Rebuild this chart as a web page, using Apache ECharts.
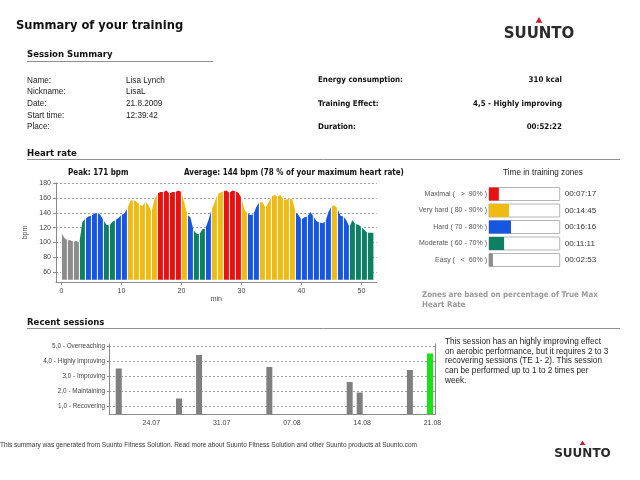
<!doctype html>
<html>
<head>
<meta charset="utf-8">
<title>Summary of your training</title>
<script src="https://cdn.jsdelivr.net/npm/echarts@6/dist/echarts.min.js"></script>
</head>
<body style="margin:0;padding:0;background:#fff">
<div id="main" style="width:640px;height:480px"></div>
<script>
// heart rate, one reading every half minute from 0 to 52 min
var hrValues = [
	113,106,103,103,101,102,100,128,132,135,136,139,140,137,130,124,123,128,130,133,137,139,
	146,156,157,155,151,149,155,150,141,157,166,168,168,170,166,168,168,170,168,153,137,134,
	117,112,111,118,119,130,144,153,165,167,169,170,167,170,169,167,160,144,139,137,138,148,
	154,154,147,153,162,164,162,164,158,158,159,158,141,137,131,134,135,141,135,129,127,126,
	128,141,148,150,146,136,135,130,121,130,125,124,121,117,113,113,113
];
// zone of every full minute
var minuteZones = [
	'E','E','E','M','H','H','H','M','M','H','H','V','V','V','V','V','X','X','X','X','V','H','M','M','H','V',
	'V','X','X','X','V','H','H','V','V','V','V','V','V','H','H','H','H','H','H','V','H','H','M','M','M','M'
];
var zoneKeys = ['X', 'V', 'H', 'M', 'E'];
var zoneColors = ['#e81010', '#eebb12', '#1656e0', '#0f7f63', '#8c8c8c'];
var zoneNames = ['Maximal (   >  90% )', 'Very hard ( 80 - 90% )', 'Hard ( 70 - 80% )', 'Moderate ( 60 - 70% )', 'Easy (   <  60% )'];
var zoneSeconds = [437, 885, 976, 671, 173];
var zoneTimes = ['00:07:17', '00:14:45', '00:16:16', '00:11:11', '00:02:53'];
var totalSeconds = 3142;

var hrTicks = [60, 80, 100, 120, 140, 160, 180];
var minTicks = [0, 10, 20, 30, 40, 50];

// days counted from 24.07
var sessionDays = [-3, 3, 5, 12, 20, 21, 26, 28];
var sessionEffect = [3.5, 1.5, 4.4, 3.6, 2.6, 1.9, 3.4, 4.5];
var dayTicks = [0, 7, 14, 21, 28];
var dayLabels = ['24.07', '31.07', '07.08', '14.08', '21.08'];
var effectTicks = [1, 2, 3, 4, 5];
var effectLabels = ['1,0 - Recovering', '2,0 - Maintaining', '3,0 - Improving', '4,0 - Highly improving', '5,0 - Overreaching'];

var FONT = '"Liberation Sans", sans-serif';
var BOLD = '"DejaVu Sans Condensed", "DejaVu Sans"';
var GREY = '#8a8a8a';

function text(x, y, str, size, opt) {
	opt = opt || {};
	return {
		type: 'text', x: x, y: y, silent: true,
		style: {
			text: str,
			font: (opt.bold ? 'bold ' : '') + size + 'px ' + (opt.family || (opt.bold ? BOLD : FONT)),
			fill: opt.color || '#222',
			textAlign: opt.align || 'left',
			textVerticalAlign: 'middle'
		}
	};
}
function rule(x1, x2, y) {
	return { type: 'line', silent: true, shape: { x1: x1, y1: y, x2: x2, y2: y }, style: { stroke: '#8f8f8f', lineWidth: 1 } };
}
function logo(cx, y, size) {
	return [
		text(cx, y, 'SUUNTO', size, { bold: true, align: 'center', color: '#2a2a2a', family: '"DejaVu Sans"' }),
		{ type: 'polygon', silent: true, shape: { points: [[cx, y - size * 1.13], [cx - size * 0.23, y - size * 0.75], [cx + size * 0.23, y - size * 0.75]] }, style: { fill: '#c8202c' } }
	];
}

var graphics = [
	text(16, 26, 'Summary of your training', 12.8, { bold: true, color: '#111' }),
	text(27, 55, 'Session Summary', 9.5, { bold: true, color: '#111' }),
	rule(27, 213, 61.5),
	text(27, 154, 'Heart rate', 9.5, { bold: true, color: '#111' }),
	rule(27, 620, 159.5),
	text(27, 323, 'Recent sessions', 9.5, { bold: true, color: '#111' }),
	rule(27, 620, 328.5),
	text(68, 173, 'Peak: 171 bpm', 8, { bold: true, color: '#111' }),
	text(184, 173, 'Average: 144 bpm (78 % of your maximum heart rate)', 8, { bold: true, color: '#111' }),
	text(543, 173, 'Time in training zones', 8.2, { align: 'center' }),
	text(422, 295, 'Zones are based on percentage of True Max', 7.9, { bold: true, color: '#9a9a9a' }),
	text(422, 305, 'Heart Rate', 7.9, { bold: true, color: '#9a9a9a' }),
	text(0, 445, 'This summary was generated from Suunto Fitness Solution. Read more about Suunto Fitness Solution and other Suunto products at Suunto.com', 6.5, { color: '#333' })
];
[['Name:', 'Lisa Lynch', 80.5], ['Nickname:', 'LisaL', 92], ['Date:', '21.8.2009', 103.5], ['Start time:', '12:39:42', 115.5], ['Place:', '', 127]].forEach(function (r) {
	graphics.push(text(27, r[2], r[0], 8.2), text(126, r[2], r[1], 8.2));
});
[['Energy consumption:', '310 kcal', 80], ['Training Effect:', '4,5 - Highly improving', 103.5], ['Duration:', '00:52:22', 127]].forEach(function (r) {
	graphics.push(text(318, r[2], r[0], 7.9, { bold: true, color: '#111' }), text(562, r[2], r[1], 7.9, { bold: true, color: '#111', align: 'right' }));
});
['This session has an highly improving effect', 'on aerobic performance, but it requires 2 to 3', 'recovering sessions (TE 1- 2). This session', 'can be performed up to 1 to 2 times per', 'week.'].forEach(function (l, i) {
	graphics.push(text(445, 342 + i * 9.6, l, 8.2));
});
graphics = graphics.concat(logo(539, 34, 15), logo(582.5, 454, 12));

// one area series per zone, each full minute is its own piece
var hrSeries = zoneKeys.map(function (key, z) {
	var pts = [];
	minuteZones.forEach(function (k, m) {
		if (k !== key) return;
		pts.push([m, hrValues[m * 2]], [m + 0.5, hrValues[m * 2 + 1]], [m + 1, hrValues[m * 2 + 2]], [m + 1, null]);
	});
	return {
		type: 'line', xAxisIndex: 0, yAxisIndex: 0, data: pts, showSymbol: false, silent: true,
		connectNulls: false, lineStyle: { width: 0 },
		areaStyle: { color: zoneColors[z], opacity: 1, origin: 50 },
		itemStyle: { color: zoneColors[z] }
	};
});
// the thin white gaps between minutes
hrSeries.push({
	type: 'bar', xAxisIndex: 0, yAxisIndex: 0, barWidth: 1, silent: true, z: 5,
	itemStyle: { color: '#fff' },
	data: minuteZones.map(function (k, m) { return [m, hrValues[m * 2] + 1]; })
});

var dashed = { show: true, lineStyle: { color: '#a0a0a0', type: [2, 2], width: 1 } };
var axisLine = { show: true, onZero: false, lineStyle: { color: GREY } };
var tickLabel = { color: '#444', fontSize: 7, fontFamily: FONT };

var chart = echarts.init(document.getElementById('main'), null, { renderer: 'canvas' });
chart.setOption({
	animation: false,
	backgroundColor: '#fff',
	graphic: graphics,
	grid: [
		{ left: 56, top: 183, width: 320.7, height: 99 },
		{ left: 489, top: 185.75, width: 70.7, height: 82.5 },
		{ left: 109, top: 344, width: 326, height: 70 }
	],
	xAxis: [
		{
			type: 'value', gridIndex: 0, min: -0.9, max: 52.55, splitLine: { show: false }, axisLine: axisLine,
			axisTick: { show: true, length: 3, customValues: minTicks, lineStyle: { color: GREY } },
			axisLabel: Object.assign({ customValues: minTicks, margin: 6 }, tickLabel),
			name: 'min', nameLocation: 'middle', nameGap: 13, nameTextStyle: { color: '#444', fontSize: 7, fontFamily: FONT }
		},
		{ type: 'value', gridIndex: 1, min: 0, max: totalSeconds, show: false },
		{
			type: 'value', gridIndex: 2, min: -3.97, max: 28.5, splitLine: { show: false }, axisLine: axisLine,
			axisTick: { show: false, customValues: dayTicks },
			axisLabel: Object.assign({
				customValues: dayTicks, margin: 6, padding: [0, 0, 0, 5],
				formatter: function (v) { return dayLabels[dayTicks.indexOf(v)]; }
			}, tickLabel)
		}
	],
	yAxis: [
		{
			type: 'value', gridIndex: 0, min: 47, max: 180, axisLine: axisLine, splitLine: dashed,
			axisTick: { show: true, length: 3, customValues: hrTicks, lineStyle: { color: GREY } },
			axisLabel: Object.assign({ customValues: hrTicks, margin: 5 }, tickLabel),
			name: 'bpm', nameLocation: 'middle', nameGap: 18, nameRotate: 90, nameTextStyle: { color: '#444', fontSize: 7, fontFamily: FONT }
		},
		{
			type: 'category', gridIndex: 1, inverse: true, data: zoneNames,
			axisLine: { show: false }, axisTick: { show: false }, splitLine: { show: false },
			axisLabel: { color: '#555', fontSize: 7, fontFamily: FONT, margin: 2 }
		},
		{
			type: 'category', gridIndex: 1, inverse: true, position: 'right', data: zoneTimes,
			axisLine: { show: false }, axisTick: { show: false }, splitLine: { show: false },
			axisLabel: { color: '#333', fontSize: 8.1, fontFamily: FONT, margin: 5 }
		},
		{
			type: 'value', gridIndex: 2, min: 0.47, max: 5.13, axisLine: axisLine, splitLine: dashed,
			axisTick: { show: true, length: 2, customValues: effectTicks, lineStyle: { color: GREY } },
			axisLabel: Object.assign({
				customValues: effectTicks, margin: 4,
				formatter: function (v) { return effectLabels[v - 1]; }
			}, tickLabel, { fontSize: 6.4 })
		},
		{
			type: 'value', gridIndex: 2, position: 'right', min: 0.47, max: 5.13, axisLine: axisLine,
			axisTick: { show: false }, axisLabel: { show: false }, splitLine: { show: false }
		}
	],
	series: hrSeries.concat([
		{
			type: 'bar', xAxisIndex: 1, yAxisIndex: 1, barWidth: 13, silent: true,
			showBackground: true,
			backgroundStyle: { color: '#fff', borderColor: '#b5b5b5', borderWidth: 1 },
			data: zoneSeconds.map(function (v, i) { return { value: v, itemStyle: { color: zoneColors[i] } }; })
		},
		{
			type: 'bar', xAxisIndex: 2, yAxisIndex: 3, barWidth: 6, silent: true,
			data: sessionDays.map(function (d, i) {
				return { value: [d, sessionEffect[i]], itemStyle: { color: i === sessionDays.length - 1 ? '#17e317' : '#7f7f7f' } };
			})
		}
	])
});
</script>
</body>
</html>
